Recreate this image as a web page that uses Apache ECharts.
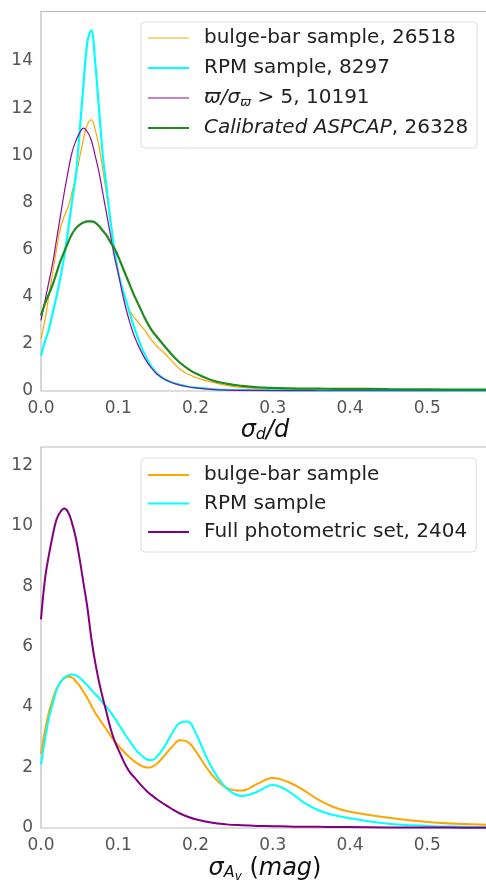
<!DOCTYPE html>
<html>
<head>
<meta charset="utf-8">
<title>sigma distributions</title>
<script src="https://cdn.jsdelivr.net/npm/echarts@6/dist/echarts.min.js"></script>
<style>
  html, body { margin: 0; padding: 0; background: #fff; }
  #chart { width: 486px; height: 883px; }
</style>
</head>
<body>
<div id="chart"></div>
<script>
// shared x grid (sigma values) for both panels
const xs = [
  0, 0.005, 0.01, 0.015, 0.02, 0.025, 0.03, 0.035, 0.04, 0.045, 0.05,
  0.055, 0.06, 0.065, 0.07, 0.075, 0.08, 0.085, 0.09, 0.095, 0.1,
  0.105, 0.11, 0.115, 0.12, 0.125, 0.13, 0.135, 0.14, 0.145, 0.15,
  0.16, 0.17, 0.18, 0.19, 0.2,
  0.22, 0.24, 0.26, 0.28, 0.3, 0.32, 0.34, 0.36, 0.38, 0.4,
  0.45, 0.5, 0.55, 0.58
];

// top panel: sigma_d / d
const topNames = ["bulge-bar sample, 26518", "RPM sample, 8297", "parallax, 10191", "Calibrated ASPCAP, 26328"];
const topBulge = [
  2.2, 3.0, 4.0, 5.0, 6.0, 6.9, 7.4, 7.8, 8.4, 9.1, 9.9, 10.7, 11.3, 11.5, 11.1, 10.4, 9.4, 8.3, 7.2, 6.0, 5.1,
  4.3, 3.8, 3.4, 3.15, 2.95, 2.75, 2.55, 2.3, 2.1, 1.9,
  1.6, 1.25, 0.92, 0.72, 0.58,
  0.38, 0.24, 0.15, 0.1, 0.07, 0.05, 0.04, 0.03, 0.03, 0.03,
  0.02, 0.02, 0.02, 0.02
];
const topRpm = [
  1.5, 2.1, 2.6, 3.3, 4.0, 4.8, 5.7, 6.8, 8.0, 9.1, 11.0, 13.0, 14.8, 15.3, 14.0, 12.0, 10.0, 8.6, 7.2, 6.0, 5.0,
  4.4, 3.85, 3.3, 2.75, 2.3, 1.85, 1.5, 1.2, 0.95, 0.75,
  0.5, 0.36, 0.26, 0.19, 0.14,
  0.08, 0.05, 0.04, 0.03, 0.03, 0.02, 0.02, 0.02, 0.02, 0.02,
  0.01, 0.01, 0.01, 0.01
];
const topParallax = [
  3.0, 3.8, 4.6, 5.4, 6.4, 7.4, 8.4, 9.3, 10.1, 10.6, 10.95, 11.15, 11.0, 10.65, 10.0, 9.3, 8.4, 7.5, 6.6, 5.7, 5.0,
  4.2, 3.5, 2.9, 2.4, 2.0, 1.65, 1.35, 1.1, 0.9, 0.72,
  0.5, 0.35, 0.25, 0.18, 0.13,
  0.07, 0.04, 0.03, 0.03, 0.02, 0.02, 0.02, 0.01, 0.01, 0.01,
  0.01, 0.01, 0.01, 0.01
];
const topAspcap = [
  3.2, 3.7, 4.1, 4.5, 5.0, 5.5, 5.9, 6.3, 6.65, 6.9, 7.05, 7.15, 7.2, 7.2, 7.15, 7.0, 6.8, 6.6, 6.3, 6.05, 5.7,
  5.3, 4.9, 4.5, 4.1, 3.75, 3.4, 3.05, 2.75, 2.5, 2.3,
  1.9, 1.52, 1.2, 0.95, 0.75,
  0.47, 0.31, 0.22, 0.16, 0.13, 0.11, 0.1, 0.1, 0.09, 0.09,
  0.08, 0.07, 0.06, 0.06
];

// bottom panel: sigma_Av
const botNames = ["bulge-bar sample", "RPM sample", "Full photometric set, 2404"];
const botBulge = [
  2.45, 3.2, 3.8, 4.25, 4.6, 4.82, 4.95, 5.0, 4.98, 4.85, 4.7, 4.5, 4.3, 4.05, 3.82, 3.62, 3.43, 3.25, 3.05, 2.88, 2.73,
  2.58, 2.45, 2.33, 2.22, 2.13, 2.06, 2.01, 2.0, 2.04, 2.12,
  2.4, 2.7, 2.9, 2.85, 2.55,
  1.8, 1.33, 1.24, 1.46, 1.65, 1.52, 1.25, 0.92, 0.68, 0.54,
  0.34, 0.2, 0.13, 0.11
];
const botRpm = [
  2.1, 2.9, 3.6, 4.1, 4.55, 4.82, 4.97, 5.05, 5.08, 5.05, 4.97, 4.85, 4.72, 4.57, 4.43, 4.3, 4.15, 4.0, 3.83, 3.65, 3.45,
  3.25, 3.05, 2.87, 2.68, 2.52, 2.4, 2.3, 2.25, 2.26, 2.35,
  2.7, 3.15, 3.48, 3.52, 3.15,
  2.05, 1.32, 1.06, 1.2, 1.42, 1.22, 0.85, 0.58, 0.42, 0.32,
  0.14, 0.07, 0.04, 0.03
];
const botPhot = [
  6.9, 8.2, 9.0, 9.65, 10.2, 10.45, 10.57, 10.45, 10.1, 9.6, 8.9, 8.1, 7.3, 6.3, 5.5, 4.85, 4.3, 3.8, 3.3, 2.9, 2.6,
  2.32, 2.05, 1.85, 1.7, 1.55, 1.4, 1.27, 1.15, 1.05, 0.95,
  0.78, 0.62, 0.48, 0.37, 0.29,
  0.18, 0.12, 0.09, 0.07, 0.06, 0.05, 0.04, 0.04, 0.03, 0.03,
  0.02, 0.02, 0.01, 0.01
];

const yTicksTop = [0, 2, 4, 6, 8, 10, 12, 14];
const yTicksBot = [0, 2, 4, 6, 8, 10, 12];
const xTicks = [0, 0.1, 0.2, 0.3, 0.4, 0.5];

const FONT = "DejaVu Sans";
const TXT = "#222";
const pairs = (ys) => xs.map((x, i) => [x, ys[i]]);
// legend swatch: a plain line of given thickness
const lineIcon = (w) => "path://M0,0H41V" + w + "H0Z";

const chart = echarts.init(document.getElementById("chart"));

const legendRich = {
  it: { fontStyle: "italic", fontSize: 20, fontFamily: FONT, color: TXT },
  sub: { fontStyle: "italic", fontSize: 13, lineHeight: 13, verticalAlign: "bottom", fontFamily: FONT, color: TXT },
  n: { fontSize: 20, fontFamily: FONT, color: TXT }
};

function legendLabel(name) {
  if (name === "parallax, 10191") return "{it|ϖ/σ}{sub|ϖ}{n| > 5, 10191}";
  if (name === "Calibrated ASPCAP, 26328") return "{it|Calibrated ASPCAP}{n|, 26328}";
  return "{n|" + name + "}";
}

const xLabel = {
  fontSize: 17, color: "#555", fontFamily: FONT, margin: 9,
  formatter: (v) => xTicks.some((t) => Math.abs(t - v) < 1e-6) ? v.toFixed(1) : ""
};
const yLabel = (ticks) => ({
  fontSize: 17, color: "#555", fontFamily: FONT, margin: 8,
  formatter: (v) => ticks.includes(v) ? String(v) : ""
});

const nameRich = {
  it: { fontStyle: "italic", fontSize: 24, lineHeight: 26, verticalAlign: "top", fontFamily: FONT, color: "#111" },
  n: { fontSize: 24, lineHeight: 26, verticalAlign: "top", fontFamily: FONT, color: "#111" },
  sub: { fontStyle: "italic", fontSize: 16, lineHeight: 16, padding: [0, 0, 2, 0], verticalAlign: "bottom", fontFamily: FONT, color: "#111" },
  subsub: { fontStyle: "italic", fontSize: 12, lineHeight: 12, padding: [19, 0, 0, 0], verticalAlign: "bottom", fontFamily: FONT, color: "#111" }
};

const legendBase = {
  orient: "vertical",
  itemWidth: 41, itemHeight: 14,
  backgroundColor: "#fff",
  borderColor: "#ddd", borderWidth: 1, borderRadius: 4,
  formatter: legendLabel,
  textStyle: { fontSize: 20, lineHeight: 22, fontFamily: FONT, color: TXT, padding: [0, 0, 0, 10], rich: legendRich }
};

const option = {
  backgroundColor: "#fff",
  animation: false,
  grid: [
    { left: 41, top: 11.5, width: 448, height: 379.5, show: true, borderColor: "#bbb", borderWidth: 1.2, outerBoundsMode: "none" },
    { left: 41, top: 447, width: 448, height: 381, show: true, borderColor: "#bbb", borderWidth: 1.2, outerBoundsMode: "none" }
  ],
  legend: [
    Object.assign({}, legendBase, {
      data: [
        { name: topNames[0], icon: lineIcon(1.2) },
        { name: topNames[1], icon: lineIcon(2.2) },
        { name: topNames[2], icon: lineIcon(1.2) },
        { name: topNames[3], icon: lineIcon(2.2) }
      ],
      left: 141, top: 22,
      padding: [5, 9, 9, 7], itemGap: 8
    }),
    Object.assign({}, legendBase, {
      data: botNames.map((n) => ({ name: n, icon: lineIcon(2) })),
      left: 141, top: 458,
      padding: [6, 9, 9, 7], itemGap: 6.5
    })
  ],
  xAxis: [
    {
      type: "value", gridIndex: 0, min: 0, max: 0.58, interval: 0.1,
      axisLine: { show: false }, axisTick: { show: false }, splitLine: { show: false },
      axisLabel: xLabel,
      name: "{it|σ}{sub|d}{it|/d}",
      nameLocation: "middle", nameGap: 28, nameMoveOverlap: false,
      nameTextStyle: { rich: nameRich }
    },
    {
      type: "value", gridIndex: 1, min: 0, max: 0.58, interval: 0.1,
      axisLine: { show: false }, axisTick: { show: false }, splitLine: { show: false },
      axisLabel: xLabel,
      name: "{it|σ}{sub|A}{subsub|v}{n| (}{it|mag}{n|)}",
      nameLocation: "middle", nameGap: 29, nameMoveOverlap: false,
      nameTextStyle: { rich: nameRich }
    }
  ],
  yAxis: [
    {
      type: "value", gridIndex: 0, min: 0, max: 16.1, interval: 2,
      axisLine: { show: false }, axisTick: { show: false }, splitLine: { show: false },
      axisLabel: yLabel(yTicksTop)
    },
    {
      type: "value", gridIndex: 1, min: 0, max: 12.6, interval: 2,
      axisLine: { show: false }, axisTick: { show: false }, splitLine: { show: false },
      axisLabel: yLabel(yTicksBot)
    }
  ],
  series: [
    { name: topNames[0], type: "line", xAxisIndex: 0, yAxisIndex: 0, smooth: 0.4, symbol: "none",
      lineStyle: { color: "#ffa500", width: 1.2 }, itemStyle: { color: "#ffa500" }, data: pairs(topBulge) },
    { name: topNames[1], type: "line", xAxisIndex: 0, yAxisIndex: 0, smooth: 0.4, symbol: "none",
      lineStyle: { color: "#00ffff", width: 2.2 }, itemStyle: { color: "#00ffff" }, data: pairs(topRpm) },
    { name: topNames[2], type: "line", xAxisIndex: 0, yAxisIndex: 0, smooth: 0.4, symbol: "none",
      lineStyle: { color: "#8e0a98", width: 1.2 }, itemStyle: { color: "#8e0a98" }, data: pairs(topParallax) },
    { name: topNames[3], type: "line", xAxisIndex: 0, yAxisIndex: 0, smooth: 0.4, symbol: "none",
      lineStyle: { color: "#1f8a1f", width: 2.2 }, itemStyle: { color: "#1f8a1f" }, data: pairs(topAspcap) },

    { name: botNames[0], type: "line", xAxisIndex: 1, yAxisIndex: 1, smooth: 0.4, symbol: "none",
      lineStyle: { color: "#ffa500", width: 2 }, itemStyle: { color: "#ffa500" }, data: pairs(botBulge) },
    { name: botNames[1], type: "line", xAxisIndex: 1, yAxisIndex: 1, smooth: 0.4, symbol: "none",
      lineStyle: { color: "#00ffff", width: 2 }, itemStyle: { color: "#00ffff" }, data: pairs(botRpm) },
    { name: botNames[2], type: "line", xAxisIndex: 1, yAxisIndex: 1, smooth: 0.4, symbol: "none",
      lineStyle: { color: "#800080", width: 2 }, itemStyle: { color: "#800080" }, data: pairs(botPhot) }
  ]
};

chart.setOption(option);
</script>
</body>
</html>
